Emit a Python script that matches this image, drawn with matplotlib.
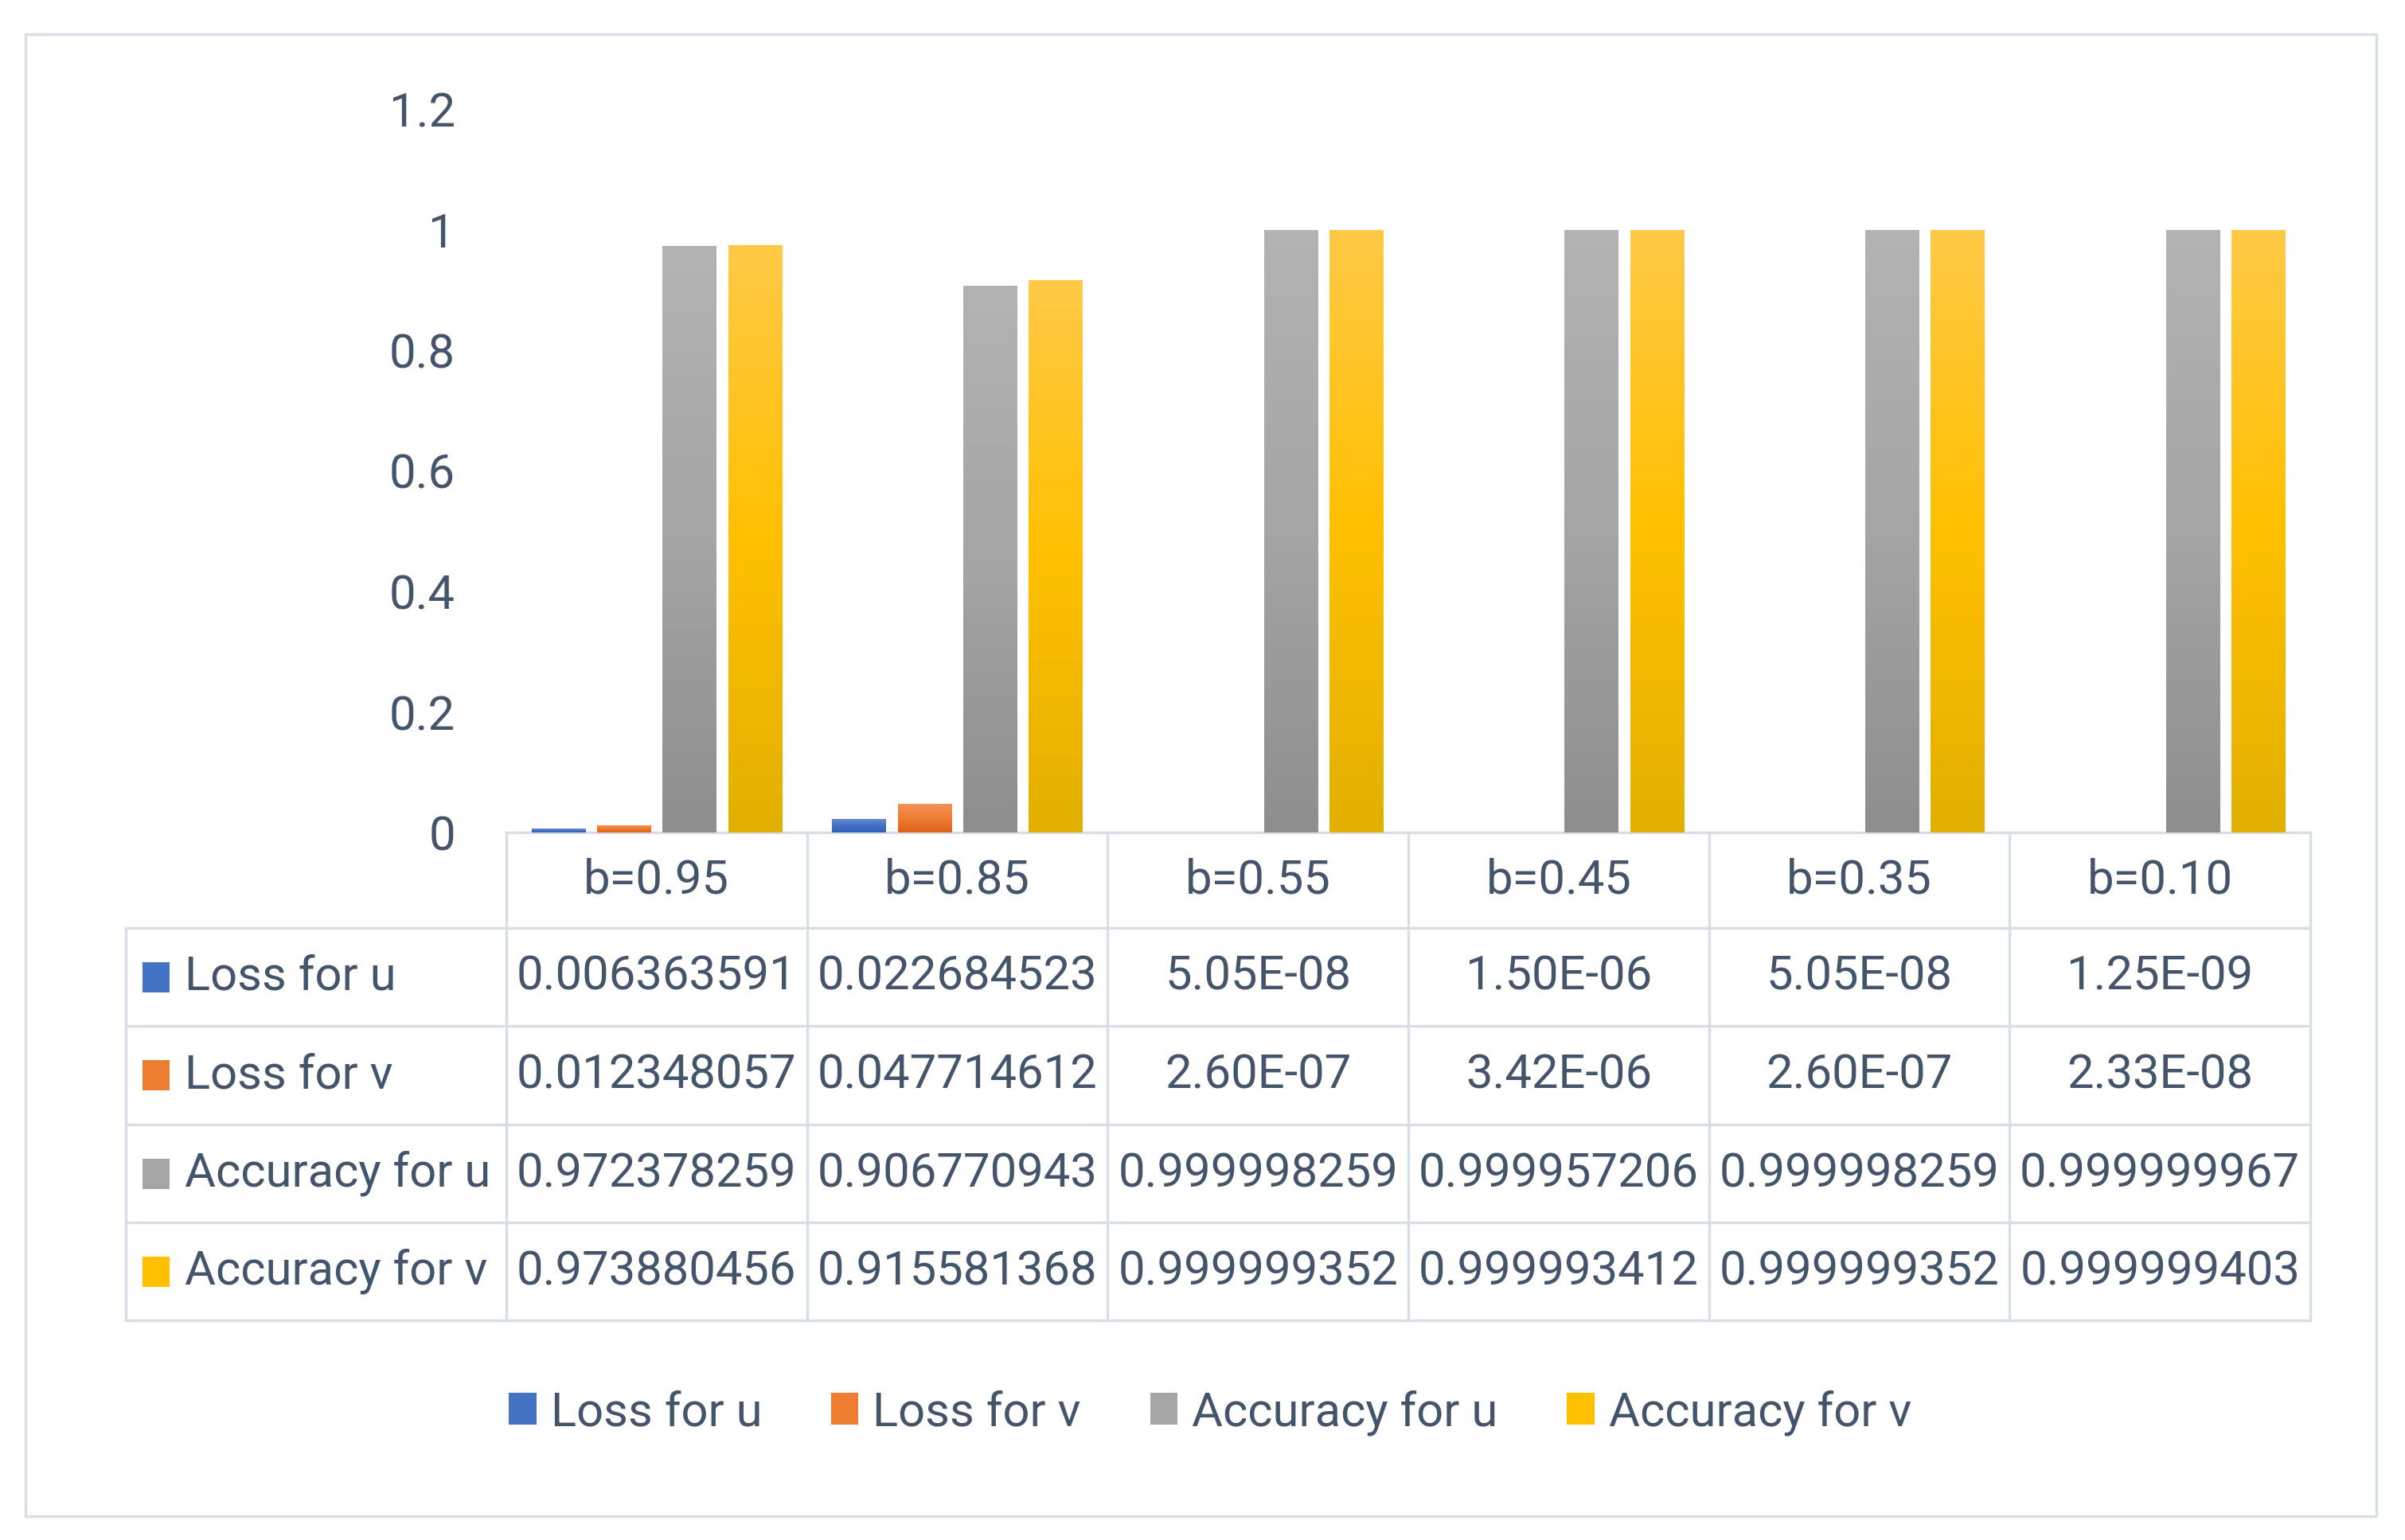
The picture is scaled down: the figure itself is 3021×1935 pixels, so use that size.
import numpy as np
import matplotlib
matplotlib.use("Agg")
import matplotlib.pyplot as plt
from matplotlib.colors import LinearSegmentedColormap
from matplotlib.patches import Rectangle
from matplotlib.lines import Line2D
from matplotlib.transforms import blended_transform_factory

categories = ["b=0.95", "b=0.85", "b=0.55", "b=0.45", "b=0.35", "b=0.10"]
series_names = ["Loss for u", "Loss for v", "Accuracy for u", "Accuracy for v"]
loss_u = [0.006363591, 0.022684523, 5.05e-08, 1.50e-06, 5.05e-08, 1.25e-09]
loss_v = [0.012348057, 0.047714612, 2.60e-07, 3.42e-06, 2.60e-07, 2.33e-08]
acc_u = [0.972378259, 0.906770943, 0.999998259, 0.999957206, 0.999998259, 0.999999967]
acc_v = [0.973880456, 0.915581368, 0.999999352, 0.999993412, 0.999999352, 0.999999403]
y_ticks = [0, 0.2, 0.4, 0.6, 0.8, 1.0, 1.2]
y_tick_labels = ["0", "0.2", "0.4", "0.6", "0.8", "1", "1.2"]

series = [loss_u, loss_v, acc_u, acc_v]
# (bottom, middle, top) colours of the Excel style gradient
grads = [
    ("#2f5fbb", "#4472c4", "#6a8fd7"),
    ("#de6119", "#ed7d31", "#f4945c"),
    ("#8e8e8e", "#a5a5a5", "#b3b3b3"),
    ("#e2b000", "#ffc000", "#ffca47"),
]

W, H = 3021, 1935
TXT = "#44546a"
LINE = "#d9dde6"
FS = 43
plt.rcParams["font.family"] = ["Roboto", "DejaVu Sans"]


def fx(px):
    return px / W


def fy(py):
    return 1 - py / H


def cell(v):
    return f"{v:.9f}" if v >= 1e-3 else f"{v:.2E}"


fig = plt.figure(figsize=(W / 100, H / 100), dpi=100)
fig.patch.set_facecolor("white")

ax = fig.add_axes([fx(636), fy(1046), fx(2902) - fx(636), (1046 - 137) / H])
x = np.arange(len(categories))
width = 0.178
step = 0.218
for i, (vals, g) in enumerate(zip(series, grads)):
    bars = ax.bar(x + (i - 1.5) * step, vals, width, color=g[1], zorder=2)
    cmap = LinearSegmentedColormap.from_list(f"g{i}", list(g))
    grad = np.linspace(0, 1, 256).reshape(-1, 1)
    for r in bars:
        x0, w, h = r.get_x(), r.get_width(), r.get_height()
        im = ax.imshow(grad, extent=[x0, x0 + w, 0, h], aspect="auto",
                       cmap=cmap, origin="lower", zorder=3)
        im.set_clip_path(r)

ax.set_xlim(-0.5, len(categories) - 0.5)
ax.set_ylim(0, 1.2)
ax.set_yticks(y_ticks)
ax.set_yticklabels(y_tick_labels, fontsize=FS, color=TXT)
ax.tick_params(axis="y", length=0, pad=46)
ax.set_xticks([])
for s in ["top", "right", "left"]:
    ax.spines[s].set_visible(False)
ax.spines["bottom"].set_color(LINE)
ax.spines["bottom"].set_linewidth(2.4)

# data table under the chart
bt = blended_transform_factory(ax.transData, fig.transFigure)
row_edges = [1046, 1166, 1289, 1413, 1536, 1659]
lw = 2.4
for k in range(len(categories) + 1):
    fig.add_artist(Line2D([k - 0.5, k - 0.5], [fy(1046), fy(1659)], transform=bt,
                          color=LINE, lw=lw))
fig.add_artist(Line2D([fx(158), fx(158)], [fy(1166), fy(1659)],
                      transform=fig.transFigure, color=LINE, lw=lw))
for r in row_edges[1:]:
    fig.add_artist(Line2D([fx(158), fx(2902)], [fy(r), fy(r)],
                          transform=fig.transFigure, color=LINE, lw=lw))

hy = fy((row_edges[0] + row_edges[1]) / 2)
for k, c in enumerate(categories):
    fig.text(k, hy, c, transform=bt, ha="center", va="center", fontsize=FS, color=TXT)

for i, (name, vals, g) in enumerate(zip(series_names, series, grads)):
    yc = (row_edges[i + 1] + row_edges[i + 2]) / 2
    fig.add_artist(Rectangle((fx(179), fy(yc + 19)), fx(34), 38 / H,
                             transform=fig.transFigure, facecolor=g[1], edgecolor="none"))
    fig.text(fx(232), fy(yc), name, ha="left", va="center", fontsize=FS, color=TXT)
    for k, v in enumerate(vals):
        fig.text(k, fy(yc), cell(v), transform=bt, ha="center", va="center",
                 fontsize=FS, color=TXT)

# legend
handles = [Rectangle((0, 0), 1, 1, facecolor=g[1], edgecolor="none") for g in grads]
fig.legend(handles, series_names, loc="center", bbox_to_anchor=(fx(1520), fy(1775)),
           ncol=4, frameon=False, fontsize=FS, labelcolor=TXT,
           handlelength=0.58, handleheight=0.65, handletextpad=0.3, columnspacing=1.45)

# outer chart border
fig.add_artist(Rectangle((fx(32), fy(1905)), fx(2985) - fx(32), (1905 - 43) / H,
                         transform=fig.transFigure, fill=False, edgecolor=LINE, lw=2.4))

fig.savefig("out.png", dpi=100)
